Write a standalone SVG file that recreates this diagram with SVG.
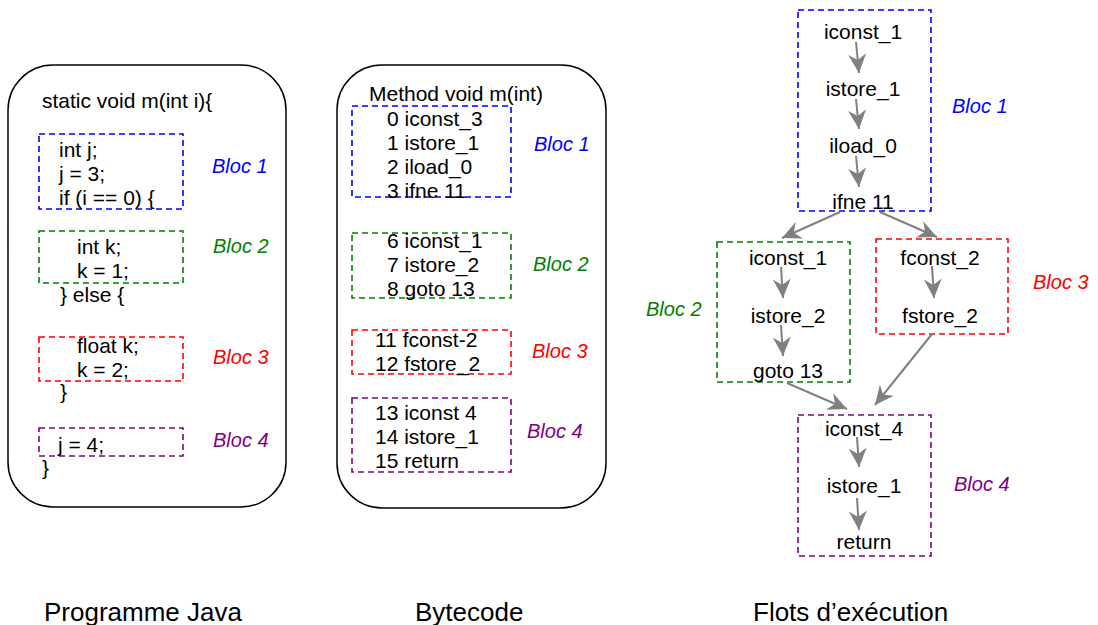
<svg xmlns="http://www.w3.org/2000/svg" width="1098" height="625" viewBox="0 0 1098 625">
<style>
text{font-family:"Liberation Sans",Arial,sans-serif;font-size:21px;fill:#000}
.bl{font-size:20px;font-style:italic}
.cap{font-size:26px}
.mid{text-anchor:middle}
.panel{fill:none;stroke:#000;stroke-width:1.5}
.box{fill:none;stroke-width:1.6;stroke-dasharray:6 4}
.b1{stroke:#0000ff}.b2{stroke:#008000}.b3{stroke:#ff0000}.b4{stroke:#800080}
.t1{fill:#0000ff}.t2{fill:#008000}.t3{fill:#ff0000}.t4{fill:#800080}
.edge{fill:none;stroke:#808080;stroke-width:2;marker-end:url(#ah)}
</style>
<defs>
<marker id="ah" markerUnits="userSpaceOnUse" markerWidth="21" markerHeight="20" viewBox="-20 -10 21 20" refX="0" refY="0" orient="auto">
<path d="M0,0 L-19,-9 L-13,0 L-19,9 Z" fill="#808080"/>
</marker>
</defs>
<g id="java">
<rect class="panel" x="8" y="65" width="278" height="442" rx="45" ry="45"/>
<text x="42" y="108">static void m(int i){</text>
<rect class="box b1" x="39" y="134" width="144" height="75"/>
<text x="59" y="157">int j;</text>
<text x="59" y="181">j = 3;</text>
<text x="59" y="205">if (i == 0) {</text>
<text class="bl t1" x="212" y="173">Bloc 1</text>
<rect class="box b2" x="39" y="231" width="144" height="52"/>
<text x="77" y="254">int k;</text>
<text x="77" y="278">k = 1;</text>
<text x="60" y="302">} else {</text>
<text class="bl t2" x="213" y="253">Bloc 2</text>
<rect class="box b3" x="39" y="337" width="144" height="44"/>
<text x="77" y="353">float k;</text>
<text x="77" y="377">k = 2;</text>
<text x="60" y="399">}</text>
<text class="bl t3" x="213" y="364">Bloc 3</text>
<rect class="box b4" x="39" y="428" width="144" height="28"/>
<text x="58" y="452">j = 4;</text>
<text x="42" y="475">}</text>
<text class="bl t4" x="213" y="447">Bloc 4</text>
</g>
<g id="bytecode">
<rect class="panel" x="337" y="65" width="269" height="443" rx="45" ry="45"/>
<text x="369" y="101">Method void m(int)</text>
<rect class="box b1" x="352" y="106" width="159" height="91"/>
<text x="387" y="126">0 iconst_3</text>
<text x="387" y="150">1 istore_1</text>
<text x="387" y="174">2 iload_0</text>
<text x="387" y="198">3 ifne 11</text>
<text class="bl t1" x="534" y="151">Bloc 1</text>
<rect class="box b2" x="352" y="233" width="159" height="65"/>
<text x="387" y="248">6 iconst_1</text>
<text x="387" y="272">7 istore_2</text>
<text x="387" y="296">8 goto 13</text>
<text class="bl t2" x="533" y="271">Bloc 2</text>
<rect class="box b3" x="352" y="330" width="159" height="44"/>
<text x="375" y="347">11 fconst-2</text>
<text x="375" y="371">12 fstore_2</text>
<text class="bl t3" x="532" y="358">Bloc 3</text>
<rect class="box b4" x="352" y="398" width="159" height="74"/>
<text x="375" y="420">13 iconst 4</text>
<text x="375" y="444">14 istore_1</text>
<text x="375" y="468">15 return</text>
<text class="bl t4" x="527" y="438">Bloc 4</text>
</g>
<g id="flow-bloc1">
<rect class="box b1" x="798" y="10" width="133" height="201"/>
<text class="mid" x="863" y="39">iconst_1</text>
<text class="mid" x="863" y="96">istore_1</text>
<text class="mid" x="863" y="153">iload_0</text>
<text class="mid" x="863" y="209">ifne 11</text>
<text class="bl t1" x="952" y="113">Bloc 1</text>
</g>
<g id="flow-bloc2">
<rect class="box b2" x="717" y="242" width="133" height="140"/>
<text class="mid" x="788" y="265">iconst_1</text>
<text class="mid" x="788" y="323">istore_2</text>
<text class="mid" x="788" y="378">goto 13</text>
<text class="bl t2" x="646" y="316">Bloc 2</text>
</g>
<g id="flow-bloc3">
<rect class="box b3" x="876" y="239" width="132" height="95"/>
<text class="mid" x="940" y="265">fconst_2</text>
<text class="mid" x="940" y="323">fstore_2</text>
<text class="bl t3" x="1033" y="289">Bloc 3</text>
</g>
<g id="flow-bloc4">
<rect class="box b4" x="798" y="415" width="133" height="141"/>
<text class="mid" x="864" y="436">iconst_4</text>
<text class="mid" x="864" y="493">istore_1</text>
<text class="mid" x="864" y="549">return</text>
<text class="bl t4" x="954" y="491">Bloc 4</text>
</g>
<g id="connectors">
<line class="edge" x1="856" y1="42" x2="859" y2="73"/>
<line class="edge" x1="856" y1="99" x2="859" y2="129"/>
<line class="edge" x1="856" y1="156" x2="859" y2="187"/>
<line class="edge" x1="840" y1="212" x2="782" y2="238"/>
<line class="edge" x1="880" y1="212" x2="937" y2="237"/>
<line class="edge" x1="781" y1="267" x2="783" y2="298"/>
<line class="edge" x1="781" y1="325" x2="783" y2="356"/>
<line class="edge" x1="932" y1="266" x2="934" y2="298"/>
<line class="edge" x1="932" y1="334" x2="875" y2="405"/>
<line class="edge" x1="787" y1="383" x2="847" y2="409"/>
<line class="edge" x1="857" y1="437" x2="859" y2="467"/>
<line class="edge" x1="857" y1="498" x2="859" y2="530"/>
</g>
<g id="captions">
<text class="cap" x="44" y="621">Programme Java</text>
<text class="cap" x="415" y="621">Bytecode</text>
<text class="cap" x="753" y="621">Flots d’exécution</text>
</g>
</svg>
